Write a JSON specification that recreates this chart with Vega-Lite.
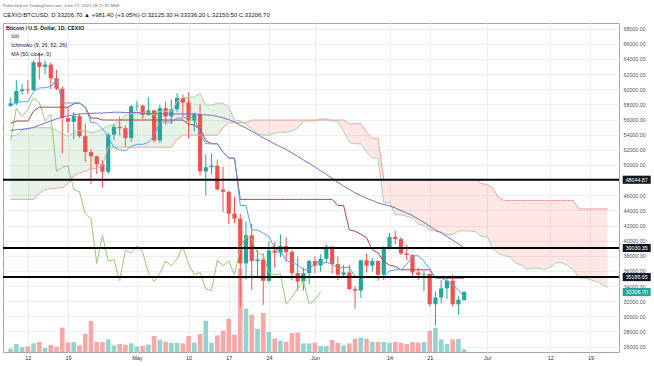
{
"$schema": "https://vega.github.io/schema/vega-lite/v6.json",
"width": 616,
"height": 329,
"autosize": {"type": "none"},
"padding": {"left": 3, "top": 23, "right": 35, "bottom": 14},
"background": "#ffffff",
"config": {"font": "Liberation Sans", "view": {"stroke": "#a3a6af", "strokeWidth": 1}},
"title": {"text": "Published on TradingView.com, June 27, 2021 08:21:35 MSK", "subtitle": "CEXIO:BTCUSD, D  33206.70 ▲ +981.40 (+3.05%)  O:32125.30 H:33336.20 L:32150.50 C:33206.70", "anchor": "start", "frame": "group", "fontSize": 4.3, "fontWeight": "normal", "color": "#6a6d78", "subtitleFontSize": 6, "subtitleColor": "#131722", "subtitlePadding": 4, "offset": 5},
"datasets": {
"bars": [
{"date":"2021-04-09","o":57800,"h":58870,"l":57700,"c":58130,"v":10},
{"date":"2021-04-10","o":58130,"h":61200,"l":57900,"c":59770,"v":24},
{"date":"2021-04-11","o":59770,"h":60680,"l":59280,"c":59980,"v":14},
{"date":"2021-04-12","o":59980,"h":61200,"l":59380,"c":59850,"v":17},
{"date":"2021-04-13","o":59850,"h":63800,"l":59800,"c":63570,"v":26},
{"date":"2021-04-14","o":63570,"h":64870,"l":61300,"c":62960,"v":30},
{"date":"2021-04-15","o":62960,"h":63800,"l":62020,"c":63250,"v":12},
{"date":"2021-04-16","o":63250,"h":63520,"l":60000,"c":61450,"v":21},
{"date":"2021-04-17","o":61450,"h":62570,"l":59900,"c":60060,"v":16},
{"date":"2021-04-18","o":60060,"h":60400,"l":51500,"c":56200,"v":73},
{"date":"2021-04-19","o":56200,"h":57600,"l":54200,"c":55700,"v":28},
{"date":"2021-04-20","o":55700,"h":57000,"l":53400,"c":56480,"v":30},
{"date":"2021-04-21","o":56480,"h":56750,"l":53600,"c":53800,"v":20},
{"date":"2021-04-22","o":53800,"h":55450,"l":50400,"c":51700,"v":54},
{"date":"2021-04-23","o":51700,"h":52100,"l":47500,"c":51150,"v":93},
{"date":"2021-04-24","o":51150,"h":51200,"l":48800,"c":50100,"v":30},
{"date":"2021-04-25","o":50100,"h":50600,"l":47000,"c":49100,"v":30},
{"date":"2021-04-26","o":49100,"h":54300,"l":48800,"c":54000,"v":38},
{"date":"2021-04-27","o":54000,"h":55400,"l":53300,"c":55050,"v":20},
{"date":"2021-04-28","o":55050,"h":56400,"l":53900,"c":54850,"v":24},
{"date":"2021-04-29","o":54850,"h":55200,"l":52400,"c":53560,"v":22},
{"date":"2021-04-30","o":53560,"h":57900,"l":53100,"c":57750,"v":26},
{"date":"2021-05-01","o":57750,"h":58450,"l":57100,"c":57830,"v":17},
{"date":"2021-05-02","o":57830,"h":57950,"l":56100,"c":56600,"v":18},
{"date":"2021-05-03","o":56600,"h":58950,"l":56500,"c":57210,"v":22},
{"date":"2021-05-04","o":57210,"h":57230,"l":53000,"c":53250,"v":48},
{"date":"2021-05-05","o":53250,"h":57950,"l":52900,"c":57500,"v":37},
{"date":"2021-05-06","o":57500,"h":58350,"l":55300,"c":56400,"v":31},
{"date":"2021-05-07","o":56400,"h":58650,"l":55400,"c":57350,"v":27},
{"date":"2021-05-08","o":57350,"h":59500,"l":56950,"c":58850,"v":27},
{"date":"2021-05-09","o":58850,"h":59300,"l":56300,"c":58250,"v":26},
{"date":"2021-05-10","o":58250,"h":59600,"l":53500,"c":55850,"v":48},
{"date":"2021-05-11","o":55850,"h":56900,"l":54400,"c":56700,"v":28},
{"date":"2021-05-12","o":56700,"h":58000,"l":48600,"c":49150,"v":54},
{"date":"2021-05-13","o":49150,"h":51400,"l":46000,"c":49700,"v":94},
{"date":"2021-05-14","o":49700,"h":51500,"l":48800,"c":49900,"v":28},
{"date":"2021-05-15","o":49900,"h":50700,"l":46650,"c":46750,"v":50},
{"date":"2021-05-16","o":46750,"h":49800,"l":43800,"c":46450,"v":64},
{"date":"2021-05-17","o":46450,"h":46600,"l":42200,"c":43550,"v":100},
{"date":"2021-05-18","o":43550,"h":45800,"l":42300,"c":42900,"v":52},
{"date":"2021-05-19","o":42900,"h":43550,"l":31300,"c":37000,"v":250},
{"date":"2021-05-20","o":37000,"h":42500,"l":34850,"c":40700,"v":130},
{"date":"2021-05-21","o":40700,"h":42200,"l":33500,"c":37300,"v":112},
{"date":"2021-05-22","o":37300,"h":38800,"l":35300,"c":37500,"v":70},
{"date":"2021-05-23","o":37500,"h":38300,"l":31500,"c":34700,"v":117},
{"date":"2021-05-24","o":34700,"h":39900,"l":34500,"c":38700,"v":60},
{"date":"2021-05-25","o":38700,"h":39800,"l":36450,"c":38400,"v":40},
{"date":"2021-05-26","o":38400,"h":40800,"l":37800,"c":39300,"v":34},
{"date":"2021-05-27","o":39300,"h":40400,"l":37200,"c":38500,"v":30},
{"date":"2021-05-28","o":38500,"h":38800,"l":34800,"c":35700,"v":57},
{"date":"2021-05-29","o":35700,"h":37900,"l":33400,"c":34600,"v":58},
{"date":"2021-05-30","o":34600,"h":36450,"l":33400,"c":35700,"v":26},
{"date":"2021-05-31","o":35700,"h":37500,"l":34200,"c":37300,"v":26},
{"date":"2021-06-01","o":37300,"h":37900,"l":35700,"c":36700,"v":28},
{"date":"2021-06-02","o":36700,"h":38200,"l":35900,"c":37600,"v":18},
{"date":"2021-06-03","o":37600,"h":39500,"l":37200,"c":39200,"v":18},
{"date":"2021-06-04","o":39200,"h":39300,"l":35600,"c":36900,"v":36},
{"date":"2021-06-05","o":36900,"h":37900,"l":34800,"c":35500,"v":27},
{"date":"2021-06-06","o":35500,"h":36800,"l":35300,"c":35800,"v":20},
{"date":"2021-06-07","o":35800,"h":36800,"l":33400,"c":33600,"v":26},
{"date":"2021-06-08","o":33600,"h":34000,"l":31000,"c":33400,"v":40},
{"date":"2021-06-09","o":33400,"h":37500,"l":32400,"c":37400,"v":43},
{"date":"2021-06-10","o":37400,"h":38300,"l":35800,"c":36700,"v":39},
{"date":"2021-06-11","o":36700,"h":37700,"l":35900,"c":37300,"v":30},
{"date":"2021-06-12","o":37300,"h":37400,"l":34700,"c":35500,"v":30},
{"date":"2021-06-13","o":35500,"h":39300,"l":34800,"c":39000,"v":30},
{"date":"2021-06-14","o":39000,"h":41000,"l":38800,"c":40500,"v":28},
{"date":"2021-06-15","o":40500,"h":41300,"l":39500,"c":40200,"v":30},
{"date":"2021-06-16","o":40200,"h":40500,"l":38100,"c":38300,"v":28},
{"date":"2021-06-17","o":38300,"h":39500,"l":37400,"c":38100,"v":24},
{"date":"2021-06-18","o":38100,"h":38200,"l":35200,"c":35800,"v":30},
{"date":"2021-06-19","o":35800,"h":36400,"l":34800,"c":35500,"v":28},
{"date":"2021-06-20","o":35500,"h":36000,"l":33300,"c":35600,"v":30},
{"date":"2021-06-21","o":35600,"h":35700,"l":31300,"c":31600,"v":64},
{"date":"2021-06-22","o":31600,"h":33300,"l":28800,"c":32500,"v":72},
{"date":"2021-06-23","o":32500,"h":34800,"l":31700,"c":33700,"v":38},
{"date":"2021-06-24","o":33700,"h":35200,"l":32300,"c":34700,"v":24},
{"date":"2021-06-25","o":34700,"h":35500,"l":31300,"c":31600,"v":38},
{"date":"2021-06-26","o":31600,"h":32700,"l":30200,"c":32200,"v":39},
{"date":"2021-06-27","o":32125.3,"h":33336.2,"l":32125.3,"c":33206.7,"v":8}
],
"ind": [
{"date":"2021-04-09","tenkan":57750,"kijun":55500,"ma":54569,"lag":53250,"spanA":53800,"spanB":45450,"cloud":"g"},
{"date":"2021-04-10","tenkan":58350,"kijun":55800,"ma":54646,"lag":57500,"spanA":53925,"spanB":45450,"cloud":"g"},
{"date":"2021-04-11","tenkan":58350,"kijun":55800,"ma":54726,"lag":56400,"spanA":54575,"spanB":45450,"cloud":"g"},
{"date":"2021-04-12","tenkan":58350,"kijun":55800,"ma":54773,"lag":57350,"spanA":54850,"spanB":45450,"cloud":"g"},
{"date":"2021-04-13","tenkan":59650,"kijun":57100,"ma":54964,"lag":58850,"spanA":54925,"spanB":45450,"cloud":"g"},
{"date":"2021-04-14","tenkan":60185,"kijun":57635,"ma":55247,"lag":58250,"spanA":54925,"spanB":46250,"cloud":"g"},
{"date":"2021-04-15","tenkan":60185,"kijun":57635,"ma":55518,"lag":55850,"spanA":54925,"spanB":46800,"cloud":"g"},
{"date":"2021-04-16","tenkan":60385,"kijun":57635,"ma":55807,"lag":56700,"spanA":54900,"spanB":46850,"cloud":"g"},
{"date":"2021-04-17","tenkan":61285,"kijun":57635,"ma":56082,"lag":49150,"spanA":54575,"spanB":46950,"cloud":"g"},
{"date":"2021-04-18","tenkan":58185,"kijun":57635,"ma":56282,"lag":49700,"spanA":54100,"spanB":47000,"cloud":"g"},
{"date":"2021-04-19","tenkan":58185,"kijun":57635,"ma":56494,"lag":49900,"spanA":53775,"spanB":47550,"cloud":"g"},
{"date":"2021-04-20","tenkan":58185,"kijun":58085,"ma":56632,"lag":46750,"spanA":54275,"spanB":48550,"cloud":"g"},
{"date":"2021-04-21","tenkan":58185,"kijun":58185,"ma":56740,"lag":46450,"spanA":54575,"spanB":48950,"cloud":"g"},
{"date":"2021-04-22","tenkan":57635,"kijun":57635,"ma":56764,"lag":43550,"spanA":54575,"spanB":49150,"cloud":"g"},
{"date":"2021-04-23","tenkan":55650,"kijun":56185,"ma":56819,"lag":42900,"spanA":54250,"spanB":49550,"cloud":"g"},
{"date":"2021-04-24","tenkan":55510,"kijun":56185,"ma":56847,"lag":37000,"spanA":54450,"spanB":49550,"cloud":"g"},
{"date":"2021-04-25","tenkan":54785,"kijun":55935,"ma":56851,"lag":40700,"spanA":54750,"spanB":49850,"cloud":"g"},
{"date":"2021-04-26","tenkan":53700,"kijun":55935,"ma":56911,"lag":37300,"spanA":55175,"spanB":52350,"cloud":"g"},
{"date":"2021-04-27","tenkan":52300,"kijun":55935,"ma":56966,"lag":37500,"spanA":55350,"spanB":52350,"cloud":"g"},
{"date":"2021-04-28","tenkan":52000,"kijun":55935,"ma":56965,"lag":34700,"spanA":55850,"spanB":52350,"cloud":"g"},
{"date":"2021-04-29","tenkan":51875,"kijun":55935,"ma":56918,"lag":38700,"spanA":56525,"spanB":52350,"cloud":"g"},
{"date":"2021-04-30","tenkan":52450,"kijun":55935,"ma":56927,"lag":38400,"spanA":56775,"spanB":52350,"cloud":"g"},
{"date":"2021-05-01","tenkan":52725,"kijun":55935,"ma":56940,"lag":39300,"spanA":56775,"spanB":52350,"cloud":"g"},
{"date":"2021-05-02","tenkan":52725,"kijun":55935,"ma":56848,"lag":38500,"spanA":56900,"spanB":52350,"cloud":"g"},
{"date":"2021-05-03","tenkan":52975,"kijun":55935,"ma":56812,"lag":35700,"spanA":56875,"spanB":52350,"cloud":"g"},
{"date":"2021-05-04","tenkan":53875,"kijun":55935,"ma":56765,"lag":34600,"spanA":56625,"spanB":52350,"cloud":"g"},
{"date":"2021-05-05","tenkan":55675,"kijun":55935,"ma":56779,"lag":35700,"spanA":57075,"spanB":52350,"cloud":"g"},
{"date":"2021-05-06","tenkan":55675,"kijun":55935,"ma":56729,"lag":37300,"spanA":57075,"spanB":52350,"cloud":"g"},
{"date":"2021-05-07","tenkan":55675,"kijun":55935,"ma":56724,"lag":36700,"spanA":57075,"spanB":52350,"cloud":"g"},
{"date":"2021-05-08","tenkan":56200,"kijun":55935,"ma":56735,"lag":37600,"spanA":58375,"spanB":53400,"cloud":"g"},
{"date":"2021-05-09","tenkan":56200,"kijun":55935,"ma":56738,"lag":39200,"spanA":58910,"spanB":53935,"cloud":"g"},
{"date":"2021-05-10","tenkan":56250,"kijun":55400,"ma":56707,"lag":36900,"spanA":58910,"spanB":53935,"cloud":"g"},
{"date":"2021-05-11","tenkan":56250,"kijun":55260,"ma":56759,"lag":35500,"spanA":59010,"spanB":53935,"cloud":"g"},
{"date":"2021-05-12","tenkan":54100,"kijun":54785,"ma":56656,"lag":35800,"spanA":59460,"spanB":53935,"cloud":"g"},
{"date":"2021-05-13","tenkan":52800,"kijun":53200,"ma":56604,"lag":33600,"spanA":57910,"spanB":53935,"cloud":"g"},
{"date":"2021-05-14","tenkan":52800,"kijun":52800,"ma":56576,"lag":33400,"spanA":57910,"spanB":53935,"cloud":"g"},
{"date":"2021-05-15","tenkan":52800,"kijun":52800,"ma":56411,"lag":37400,"spanA":58135,"spanB":53935,"cloud":"g"},
{"date":"2021-05-16","tenkan":51700,"kijun":51700,"ma":56224,"lag":36700,"spanA":58185,"spanB":54935,"cloud":"g"},
{"date":"2021-05-17","tenkan":50900,"kijun":50900,"ma":55979,"lag":37300,"spanA":57635,"spanB":55585,"cloud":"g"},
{"date":"2021-05-18","tenkan":50900,"kijun":50900,"ma":55685,"lag":35500,"spanA":55918,"spanB":55585,"cloud":"g"},
{"date":"2021-05-19","tenkan":44650,"kijun":45450,"ma":55249,"lag":39000,"spanA":55848,"spanB":55585,"cloud":"g"},
{"date":"2021-05-20","tenkan":44650,"kijun":45450,"ma":54887,"lag":40500,"spanA":55360,"spanB":55585,"cloud":"r"},
{"date":"2021-05-21","tenkan":41400,"kijun":45450,"ma":54459,"lag":40200,"spanA":54818,"spanB":55935,"cloud":"r"},
{"date":"2021-05-22","tenkan":41400,"kijun":45450,"ma":54029,"lag":38300,"spanA":54118,"spanB":55935,"cloud":"r"},
{"date":"2021-05-23","tenkan":41000,"kijun":45450,"ma":53581,"lag":38100,"spanA":53968,"spanB":55935,"cloud":"r"},
{"date":"2021-05-24","tenkan":40550,"kijun":45450,"ma":53191,"lag":35800,"spanA":53905,"spanB":55935,"cloud":"r"},
{"date":"2021-05-25","tenkan":38950,"kijun":45450,"ma":52777,"lag":35500,"spanA":54193,"spanB":55935,"cloud":"r"},
{"date":"2021-05-26","tenkan":38550,"kijun":45450,"ma":52405,"lag":35600,"spanA":54330,"spanB":55935,"cloud":"r"},
{"date":"2021-05-27","tenkan":37425,"kijun":45450,"ma":52055,"lag":31600,"spanA":54330,"spanB":55935,"cloud":"r"},
{"date":"2021-05-28","tenkan":37000,"kijun":45450,"ma":51609,"lag":32500,"spanA":54455,"spanB":55935,"cloud":"r"},
{"date":"2021-05-29","tenkan":36850,"kijun":45450,"ma":51138,"lag":33700,"spanA":54905,"spanB":55935,"cloud":"r"},
{"date":"2021-05-30","tenkan":36150,"kijun":45450,"ma":50657,"lag":34700,"spanA":55805,"spanB":55935,"cloud":"r"},
{"date":"2021-05-31","tenkan":36150,"kijun":45450,"ma":50203,"lag":31600,"spanA":55805,"spanB":55935,"cloud":"r"},
{"date":"2021-06-01","tenkan":37100,"kijun":45450,"ma":49740,"lag":32200,"spanA":55805,"spanB":55935,"cloud":"r"},
{"date":"2021-06-02","tenkan":37100,"kijun":45450,"ma":49221,"lag":33206.7,"spanA":56068,"spanB":55935,"cloud":"r"},
{"date":"2021-06-03","tenkan":37100,"kijun":45450,"ma":48746,"spanA":56068,"spanB":55935,"cloud":"r"},
{"date":"2021-06-04","tenkan":36900,"kijun":45450,"ma":48219,"spanA":55825,"spanB":55935,"cloud":"r"},
{"date":"2021-06-05","tenkan":36450,"kijun":44650,"ma":47700,"spanA":55755,"spanB":55935,"cloud":"r"},
{"date":"2021-06-06","tenkan":36450,"kijun":44650,"ma":47215,"spanA":54443,"spanB":55935,"cloud":"r"},
{"date":"2021-06-07","tenkan":36450,"kijun":41400,"ma":46763,"spanA":53000,"spanB":55435,"cloud":"r"},
{"date":"2021-06-08","tenkan":35250,"kijun":41250,"ma":46317,"spanA":52800,"spanB":55435,"cloud":"r"},
{"date":"2021-06-09","tenkan":35250,"kijun":40850,"ma":45935,"spanA":52800,"spanB":55435,"cloud":"r"},
{"date":"2021-06-10","tenkan":35250,"kijun":40400,"ma":45593,"spanA":51700,"spanB":54335,"cloud":"r"},
{"date":"2021-06-11","tenkan":35250,"kijun":38800,"ma":45305,"spanA":50900,"spanB":53535,"cloud":"r"},
{"date":"2021-06-12","tenkan":35150,"kijun":38400,"ma":44992,"spanA":50900,"spanB":53535,"cloud":"r"},
{"date":"2021-06-13","tenkan":35150,"kijun":37275,"ma":44770,"spanA":45050,"spanB":48085,"cloud":"r"},
{"date":"2021-06-14","tenkan":36000,"kijun":36750,"ma":44598,"spanA":45050,"spanB":48085,"cloud":"r"},
{"date":"2021-06-15","tenkan":36150,"kijun":36600,"ma":44322,"spanA":43425,"spanB":48085,"cloud":"r"},
{"date":"2021-06-16","tenkan":36150,"kijun":36150,"ma":43987,"spanA":43425,"spanB":48085,"cloud":"r"},
{"date":"2021-06-17","tenkan":36850,"kijun":36150,"ma":43652,"spanA":43225,"spanB":48085,"cloud":"r"},
{"date":"2021-06-18","tenkan":38000,"kijun":36150,"ma":43297,"spanA":43000,"spanB":48085,"cloud":"r"},
{"date":"2021-06-19","tenkan":38000,"kijun":36150,"ma":42852,"spanA":42200,"spanB":48085,"cloud":"r"},
{"date":"2021-06-20","tenkan":37300,"kijun":36150,"ma":42407,"spanA":42000,"spanB":48085,"cloud":"r"},
{"date":"2021-06-21","tenkan":36300,"kijun":36150,"ma":41907,"spanA":41438,"spanB":48085,"cloud":"r"},
{"date":"2021-06-22","tenkan":35050,"kijun":35050,"ma":41413,"spanA":41225,"spanB":48085,"cloud":"r"},
{"date":"2021-06-23","tenkan":35050,"kijun":35050,"ma":41022,"spanA":41150,"spanB":48085,"cloud":"r"},
{"date":"2021-06-24","tenkan":34650,"kijun":35050,"ma":40566,"spanA":40800,"spanB":48085,"cloud":"r"},
{"date":"2021-06-25","tenkan":34150,"kijun":35050,"ma":40070,"spanA":40800,"spanB":48085,"cloud":"r"},
{"date":"2021-06-26","tenkan":33500,"kijun":35050,"ma":39567,"spanA":41275,"spanB":48085,"cloud":"r"},
{"date":"2021-06-27","tenkan":32600,"kijun":35050,"ma":39054,"spanA":41275,"spanB":48085,"cloud":"r"},
{"date":"2021-06-28","spanA":41275,"spanB":48085,"cloud":"r"},
{"date":"2021-06-29","spanA":41175,"spanB":48085,"cloud":"r"},
{"date":"2021-06-30","spanA":40550,"spanB":47550,"cloud":"r"},
{"date":"2021-07-01","spanA":40550,"spanB":47410,"cloud":"r"},
{"date":"2021-07-02","spanA":38925,"spanB":46935,"cloud":"r"},
{"date":"2021-07-03","spanA":38250,"spanB":45700,"cloud":"r"},
{"date":"2021-07-04","spanA":38050,"spanB":45300,"cloud":"r"},
{"date":"2021-07-05","spanA":37825,"spanB":45300,"cloud":"r"},
{"date":"2021-07-06","spanA":37025,"spanB":45300,"cloud":"r"},
{"date":"2021-07-07","spanA":36775,"spanB":45300,"cloud":"r"},
{"date":"2021-07-08","spanA":36213,"spanB":45300,"cloud":"r"},
{"date":"2021-07-09","spanA":36375,"spanB":45300,"cloud":"r"},
{"date":"2021-07-10","spanA":36375,"spanB":45300,"cloud":"r"},
{"date":"2021-07-11","spanA":36150,"spanB":45300,"cloud":"r"},
{"date":"2021-07-12","spanA":36500,"spanB":45300,"cloud":"r"},
{"date":"2021-07-13","spanA":37075,"spanB":45300,"cloud":"r"},
{"date":"2021-07-14","spanA":37075,"spanB":45300,"cloud":"r"},
{"date":"2021-07-15","spanA":36725,"spanB":45300,"cloud":"r"},
{"date":"2021-07-16","spanA":36225,"spanB":45300,"cloud":"r"},
{"date":"2021-07-17","spanA":35050,"spanB":44200,"cloud":"r"},
{"date":"2021-07-18","spanA":35050,"spanB":44200,"cloud":"r"},
{"date":"2021-07-19","spanA":34850,"spanB":44200,"cloud":"r"},
{"date":"2021-07-20","spanA":34600,"spanB":44200,"cloud":"r"},
{"date":"2021-07-21","spanA":34275,"spanB":44200,"cloud":"r"},
{"date":"2021-07-22","spanA":33825,"spanB":44200,"cloud":"r"}
],
"levels": [
{"price":48044.87,"label":"48044.87","kind":"line"},
{"price":39030.35,"label":"39030.35","kind":"line"},
{"price":35185.65,"label":"35185.65","kind":"line"},
{"price":33206.7,"label":"33206.70","kind":"last"}
],
"legend": [
{"name":"Vol"},
{"name":"Ichimoku (9, 26, 52, 26)"},
{"name":"MA (50, close, 0)"}
]
},
"layer": [
{"data": {"name": "bars"},
 "mark": {"type": "bar", "size": 4.6},
 "encoding": {
  "x": {"field": "date", "type": "temporal", "title": null, "scale": {"type": "utc", "domain": [1617887174400, 1627007040000]}, "axis": {"title": null, "values": [1618185600000,1618790400000,1619827200000,1620604800000,1621209600000,1621814400000,1622505600000,1623628800000,1624233600000,1625097600000,1626048000000,1626652800000], "labelExpr": "utcdate(datum.value) == 1 ? utcFormat(datum.value, '%b') : utcFormat(datum.value, '%-d')", "labelFontSize": 5.5, "labelColor": "#2a2e39", "ticks": false, "domain": false, "labelPadding": 3, "grid": true, "gridColor": "#eceef2", "labelFlush": false, "labelOverlap": false, "labelBound": false}},
  "y": {"field": "v", "type": "quantitative", "title": null, "scale": {"domain": [0, 987]}, "axis": null},
  "color": {"condition": {"test": "datum.c >= datum.o", "value": "#93d3cd"}, "value": "#f6a8a6"}
 }
},
{"layer": [
 {"data": {"name": "ind"},
  "mark": {"type": "area", "opacity": 0.13},
  "encoding": {
   "x": {"field": "date", "type": "temporal", "title": null, "scale": {"type": "utc", "domain": [1617887174400, 1627007040000]}, "axis": {"title": null, "values": [1618185600000,1618790400000,1619827200000,1620604800000,1621209600000,1621814400000,1622505600000,1623628800000,1624233600000,1625097600000,1626048000000,1626652800000], "labelExpr": "utcdate(datum.value) == 1 ? utcFormat(datum.value, '%b') : utcFormat(datum.value, '%-d')", "labelFontSize": 5.5, "labelColor": "#2a2e39", "ticks": false, "domain": false, "labelPadding": 3, "grid": true, "gridColor": "#eceef2", "labelFlush": false, "labelOverlap": false, "labelBound": false}},
   "y": {"field": "spanA", "type": "quantitative", "title": null, "stack": null, "scale": {"domain": [25290, 68750], "zero": false, "nice": false}, "axis": {"orient": "right", "title": null, "values": [26000,28000,30000,32000,34000,36000,38000,40000,42000,44000,46000,50000,52000,54000,56000,58000,60000,62000,64000,66000,68000], "format": ".2f", "labelFontSize": 5.3, "labelColor": "#50535e", "ticks": false, "domain": false, "labelPadding": 4, "grid": true, "gridColor": "#eceef2", "labelFlush": false, "labelOverlap": false, "labelBound": false}},
   "y2": {"field": "spanB"},
   "fill": {"field": "cloud", "type": "nominal", "scale": {"domain": ["g", "r"], "range": ["#43a047", "#f44336"]}, "legend": null}
  }
 },
 {"data": {"name": "bars"},
  "mark": {"type": "rule", "strokeWidth": 1},
  "encoding": {
   "x": {"field": "date", "type": "temporal", "title": null, "scale": {"type": "utc", "domain": [1617887174400, 1627007040000]}, "axis": {"title": null, "values": [1618185600000,1618790400000,1619827200000,1620604800000,1621209600000,1621814400000,1622505600000,1623628800000,1624233600000,1625097600000,1626048000000,1626652800000], "labelExpr": "utcdate(datum.value) == 1 ? utcFormat(datum.value, '%b') : utcFormat(datum.value, '%-d')", "labelFontSize": 5.5, "labelColor": "#2a2e39", "ticks": false, "domain": false, "labelPadding": 3, "grid": true, "gridColor": "#eceef2", "labelFlush": false, "labelOverlap": false, "labelBound": false}},
   "y": {"field": "l", "type": "quantitative", "title": null, "scale": {"domain": [25290, 68750], "zero": false, "nice": false}, "axis": {"orient": "right", "title": null, "values": [26000,28000,30000,32000,34000,36000,38000,40000,42000,44000,46000,50000,52000,54000,56000,58000,60000,62000,64000,66000,68000], "format": ".2f", "labelFontSize": 5.3, "labelColor": "#50535e", "ticks": false, "domain": false, "labelPadding": 4, "grid": true, "gridColor": "#eceef2", "labelFlush": false, "labelOverlap": false, "labelBound": false}},
   "y2": {"field": "h"},
   "color": {"condition": {"test": "datum.c >= datum.o", "value": "#26a69a"}, "value": "#ef5350"}
  }
 },
 {"data": {"name": "bars"},
  "mark": {"type": "bar", "size": 4.2},
  "encoding": {
   "x": {"field": "date", "type": "temporal", "title": null, "scale": {"type": "utc", "domain": [1617887174400, 1627007040000]}, "axis": {"title": null, "values": [1618185600000,1618790400000,1619827200000,1620604800000,1621209600000,1621814400000,1622505600000,1623628800000,1624233600000,1625097600000,1626048000000,1626652800000], "labelExpr": "utcdate(datum.value) == 1 ? utcFormat(datum.value, '%b') : utcFormat(datum.value, '%-d')", "labelFontSize": 5.5, "labelColor": "#2a2e39", "ticks": false, "domain": false, "labelPadding": 3, "grid": true, "gridColor": "#eceef2", "labelFlush": false, "labelOverlap": false, "labelBound": false}},
   "y": {"field": "o", "type": "quantitative", "title": null, "scale": {"domain": [25290, 68750], "zero": false, "nice": false}, "axis": {"orient": "right", "title": null, "values": [26000,28000,30000,32000,34000,36000,38000,40000,42000,44000,46000,50000,52000,54000,56000,58000,60000,62000,64000,66000,68000], "format": ".2f", "labelFontSize": 5.3, "labelColor": "#50535e", "ticks": false, "domain": false, "labelPadding": 4, "grid": true, "gridColor": "#eceef2", "labelFlush": false, "labelOverlap": false, "labelBound": false}},
   "y2": {"field": "c"},
   "color": {"condition": {"test": "datum.c >= datum.o", "value": "#26a69a"}, "value": "#ef5350"}
  }
 },
 {"data": {"name": "ind"},
  "transform": [{"fold": ["spanA", "spanB", "lag", "ma", "kijun", "tenkan"], "as": ["series", "val"]}],
  "mark": {"type": "line", "strokeWidth": 1},
  "encoding": {
   "x": {"field": "date", "type": "temporal", "title": null, "scale": {"type": "utc", "domain": [1617887174400, 1627007040000]}, "axis": {"title": null, "values": [1618185600000,1618790400000,1619827200000,1620604800000,1621209600000,1621814400000,1622505600000,1623628800000,1624233600000,1625097600000,1626048000000,1626652800000], "labelExpr": "utcdate(datum.value) == 1 ? utcFormat(datum.value, '%b') : utcFormat(datum.value, '%-d')", "labelFontSize": 5.5, "labelColor": "#2a2e39", "ticks": false, "domain": false, "labelPadding": 3, "grid": true, "gridColor": "#eceef2", "labelFlush": false, "labelOverlap": false, "labelBound": false}},
   "y": {"field": "val", "type": "quantitative", "title": null, "scale": {"domain": [25290, 68750], "zero": false, "nice": false}, "axis": {"orient": "right", "title": null, "values": [26000,28000,30000,32000,34000,36000,38000,40000,42000,44000,46000,50000,52000,54000,56000,58000,60000,62000,64000,66000,68000], "format": ".2f", "labelFontSize": 5.3, "labelColor": "#50535e", "ticks": false, "domain": false, "labelPadding": 4, "grid": true, "gridColor": "#eceef2", "labelFlush": false, "labelOverlap": false, "labelBound": false}},
   "stroke": {"field": "series", "type": "nominal", "scale": {"domain": ["tenkan", "kijun", "ma", "lag", "spanA", "spanB"], "range": ["#55a6ea", "#a8474b", "#7a6cc4", "#9cc77a", "#a9d4a6", "#f2a3a1"]}, "legend": null}
  }
 },
 {"data": {"name": "levels"},
  "transform": [{"filter": "datum.kind == 'line'"}],
  "mark": {"type": "rule", "color": "#000000", "strokeWidth": 2},
  "encoding": {
   "y": {"field": "price", "type": "quantitative", "title": null, "scale": {"domain": [25290, 68750], "zero": false, "nice": false}, "axis": {"orient": "right", "title": null, "values": [26000,28000,30000,32000,34000,36000,38000,40000,42000,44000,46000,50000,52000,54000,56000,58000,60000,62000,64000,66000,68000], "format": ".2f", "labelFontSize": 5.3, "labelColor": "#50535e", "ticks": false, "domain": false, "labelPadding": 4, "grid": true, "gridColor": "#eceef2", "labelFlush": false, "labelOverlap": false, "labelBound": false}}
  }
 },
 {"data": {"name": "levels"},
  "mark": {"type": "point", "filled": true, "shape": "M-1,-0.29H1V0.29H-1Z", "size": 784, "xOffset": 17.7, "opacity": 1, "strokeWidth": 0},
  "encoding": {
   "x": {"value": "width"},
   "y": {"field": "price", "type": "quantitative", "title": null, "scale": {"domain": [25290, 68750], "zero": false, "nice": false}, "axis": {"orient": "right", "title": null, "values": [26000,28000,30000,32000,34000,36000,38000,40000,42000,44000,46000,50000,52000,54000,56000,58000,60000,62000,64000,66000,68000], "format": ".2f", "labelFontSize": 5.3, "labelColor": "#50535e", "ticks": false, "domain": false, "labelPadding": 4, "grid": true, "gridColor": "#eceef2", "labelFlush": false, "labelOverlap": false, "labelBound": false}},
   "color": {"condition": {"test": "datum.kind == 'last'", "value": "#26a69a"}, "value": "#131722"}
  }
 },
 {"data": {"name": "levels"},
  "mark": {"type": "text", "fontSize": 5.3, "color": "#ffffff", "align": "center", "baseline": "middle", "xOffset": 17.7},
  "encoding": {
   "x": {"value": "width"},
   "y": {"field": "price", "type": "quantitative", "title": null, "scale": {"domain": [25290, 68750], "zero": false, "nice": false}, "axis": {"orient": "right", "title": null, "values": [26000,28000,30000,32000,34000,36000,38000,40000,42000,44000,46000,50000,52000,54000,56000,58000,60000,62000,64000,66000,68000], "format": ".2f", "labelFontSize": 5.3, "labelColor": "#50535e", "ticks": false, "domain": false, "labelPadding": 4, "grid": true, "gridColor": "#eceef2", "labelFlush": false, "labelOverlap": false, "labelBound": false}},
   "text": {"field": "label"}
  }
 },
 {"data": {"name": "legend"},
  "mark": {"type": "point", "opacity": 0},
  "encoding": {
   "shape": {"field": "name", "type": "nominal", "sort": ["Vol", "Ichimoku (9, 26, 52, 26)", "MA (50, close, 0)"], "title": "Bitcoin / U.S. Dollar, 1D, CEXIO",
    "legend": {"orient": "top-left", "offset": 3, "padding": 0, "titleFontSize": 5.3, "titleFontWeight": "bold", "titleColor": "#131722", "titlePadding": 2.5, "labelFontSize": 5.3, "labelColor": "#131722", "labelOffset": 0, "rowPadding": 3, "symbolSize": 0, "symbolOpacity": 0, "symbolStrokeWidth": 0, "labelLimit": 0, "titleLimit": 0}}
  }
 }
]}
],
"resolve": {"scale": {"y": "independent"}}
}
